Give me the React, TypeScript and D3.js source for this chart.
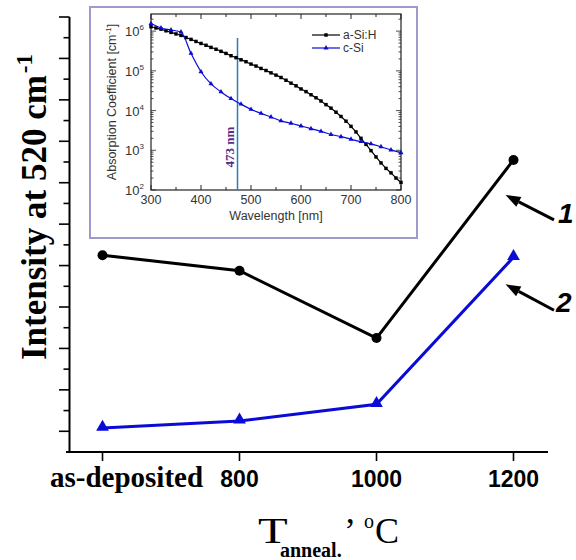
import React from "react";
import * as d3 from "d3";

// main chart: Raman intensity at 520 cm-1 vs annealing temperature
const categories = ["as-deposited", "800", "1000", "1200"];
const curve1 = [9.5, 8.75, 5.5, 14.1];
const curve2 = [1.16, 1.5, 2.3, 9.4];
const yTickValues = d3.range(1, 22);

// inset: absorption coefficient [cm-1] vs wavelength [nm]
const aSiWavelength = d3.range(300, 801, 10);
const aSiAbs = [
  1.29e6, 1.2e6, 1.12e6, 1.02e6, 9.3e5, 8.5e5, 7.8e5, 6.9e5, 6.2e5, 5.5e5,
  4.9e5, 4.4e5, 3.9e5, 3.5e5, 3.1e5, 2.75e5, 2.4e5, 2.15e5, 1.9e5, 1.7e5,
  1.48e5, 1.32e5, 1.15e5, 1.02e5, 8.9e4, 7.8e4, 6.8e4, 5.8e4, 4.9e4, 4.2e4,
  3.5e4, 3.0e4, 2.5e4, 2.1e4, 1.74e4, 1.41e4, 1.15e4, 9.1e3, 7.1e3, 5.4e3,
  4.0e3, 2.9e3, 2.0e3, 1.41e3, 9.8e2, 6.8e2, 4.8e2, 3.5e2, 2.7e2, 2.0e2,
  1.55e2,
];
const cSiWavelength = d3.range(300, 801, 20);
const cSiAbs = [
  1.55e6, 1.2e6, 1.07e6, 9.5e5, 2.75e5, 9.5e4, 4.7e4, 2.95e4, 2.0e4, 1.45e4,
  1.07e4, 8.5e3, 6.9e3, 5.5e3, 4.8e3, 4.1e3, 3.5e3, 3.0e3, 2.5e3, 2.2e3,
  1.9e3, 1.65e3, 1.45e3, 1.23e3, 1.02e3, 8.7e2,
];
const xTickLabels = [300, 400, 500, 600, 700, 800];
const decades = [2, 3, 4, 5, 6];
const laserLine = 473;

const serif = "'Liberation Serif', 'Times New Roman', serif";
const sans = "'Liberation Sans', Arial, sans-serif";
const blue = "#0b0bd6";

function Inset() {
  const ix = d3.scaleLinear().domain([300, 800]).range([151, 401]);
  const iy = d3.scaleLog().domain([100, 2.7e6]).range([190, 14]);
  const [x0, x1] = ix.range();
  const [y0, y1] = iy.range();

  const lineA = d3
    .line<number>()
    .x((d, i) => ix(aSiWavelength[i]))
    .y((d) => iy(d))
    .curve(d3.curveMonotoneX);
  const lineC = d3
    .line<number>()
    .x((d, i) => ix(cSiWavelength[i]))
    .y((d) => iy(d))
    .curve(d3.curveMonotoneX);

  const xTicks = d3.range(300, 801, 50);
  const minor: number[] = [];
  decades.forEach((e) => {
    for (let m = 1; m < 10; m++) {
      const v = m * Math.pow(10, e);
      if (v <= 2.7e6) minor.push(v);
    }
  });

  const sq = d3.symbol().type(d3.symbolSquare).size(12)();
  const tri = d3.symbol().type(d3.symbolTriangle).size(11)();

  return (
    <g>
      <rect x={90} y={7} width={327} height={231} fill="#fff" stroke="#9d9bcb" strokeWidth={2} />
      <rect x={x0} y={y1} width={x1 - x0} height={y0 - y1} fill="none" stroke="#222" strokeWidth={1.2} />
      {xTicks.map((t) => {
        const len = t % 100 === 0 ? 5 : 3;
        return (
          <g key={t}>
            <line x1={ix(t)} x2={ix(t)} y1={y0} y2={y0 - len} stroke="#222" />
            <line x1={ix(t)} x2={ix(t)} y1={y1} y2={y1 + len} stroke="#222" />
          </g>
        );
      })}
      {minor.map((v, i) => {
        const major = Math.abs(Math.log10(v) % 1) < 1e-9;
        const len = major ? 5 : 2.5;
        return (
          <g key={i}>
            <line x1={x0} x2={x0 + len} y1={iy(v)} y2={iy(v)} stroke="#222" strokeWidth={0.8} />
            <line x1={x1} x2={x1 - len} y1={iy(v)} y2={iy(v)} stroke="#222" strokeWidth={0.8} />
          </g>
        );
      })}
      {xTickLabels.map((t) => (
        <text key={t} x={ix(t)} y={204} textAnchor="middle" fontFamily={sans} fontSize={12.5} fill="#333">
          {t}
        </text>
      ))}
      {decades.map((e) => (
        <text key={e} x={144} y={iy(Math.pow(10, e)) + 5} textAnchor="end" fontFamily={sans} fontSize={13} fill="#333">
          10
          <tspan dy={-6} fontSize={8}>
            {e}
          </tspan>
        </text>
      ))}
      <text x={(x0 + x1) / 2} y={220} textAnchor="middle" fontFamily={sans} fontSize={12.5} fill="#333">
        Wavelength [nm]
      </text>
      <text
        transform={`translate(116,${(y0 + y1) / 2}) rotate(-90)`}
        textAnchor="middle"
        fontFamily={sans}
        fontSize={12.5}
        fill="#333"
      >
        Absorption Coefficient [cm
        <tspan dy={-5} fontSize={8}>
          -1
        </tspan>
        <tspan dy={5}>]</tspan>
      </text>

      <line x1={ix(laserLine)} x2={ix(laserLine)} y1={38} y2={y0} stroke="#2b7bb9" strokeWidth={1.5} />
      <text
        transform={`translate(${ix(laserLine) - 4},147) rotate(-90)`}
        textAnchor="middle"
        fontFamily={serif}
        fontWeight="bold"
        fontSize={13}
        fill="#5b2d82"
      >
        473 nm
      </text>

      <path d={lineA(aSiAbs) || ""} fill="none" stroke="#000" strokeWidth={1.2} />
      {aSiAbs.map((v, i) => (
        <path key={i} d={sq || ""} transform={`translate(${ix(aSiWavelength[i])},${iy(v)})`} fill="#000" />
      ))}
      <path d={lineC(cSiAbs) || ""} fill="none" stroke={blue} strokeWidth={1.2} />
      {cSiAbs.map((v, i) => (
        <path key={i} d={tri || ""} transform={`translate(${ix(cSiWavelength[i])},${iy(v)})`} fill={blue} />
      ))}

      <line x1={312} x2={340} y1={35} y2={35} stroke="#000" strokeWidth={1.2} />
      <path d={sq || ""} transform="translate(326,35)" fill="#000" />
      <text x={343} y={39} fontFamily={sans} fontSize={12} fill="#333">
        a-Si:H
      </text>
      <line x1={312} x2={340} y1={48} y2={48} stroke={blue} strokeWidth={1.2} />
      <path d={tri || ""} transform="translate(326,48)" fill={blue} />
      <text x={343} y={52} fontFamily={sans} fontSize={12} fill="#333">
        c-Si
      </text>
    </g>
  );
}

function Arrow({ x1, y1, x2, y2 }: { x1: number; y1: number; x2: number; y2: number }) {
  const a = Math.atan2(y2 - y1, x2 - x1);
  const L = 15;
  const W = 5.5;
  const bx = x2 - L * Math.cos(a);
  const by = y2 - L * Math.sin(a);
  const px = -Math.sin(a) * W;
  const py = Math.cos(a) * W;
  return (
    <g>
      <line x1={x1} y1={y1} x2={bx} y2={by} stroke="#000" strokeWidth={3} />
      <polygon points={`${x2},${y2} ${bx + px},${by + py} ${bx - px},${by - py}`} fill="#000" />
    </g>
  );
}

export default function App() {
  const x = d3.scalePoint<string>().domain(categories).range([102.5, 513.5]);
  const y = d3.scaleLinear().domain([0, 21]).range([452, 17]);

  const line = d3
    .line<number>()
    .x((d, i) => x(categories[i]) as number)
    .y((d) => y(d));

  const tri = d3.symbol().type(d3.symbolTriangle).size(70)();

  const last = categories[categories.length - 1];
  const lx = x(last) as number;
  const ly1 = y(curve1[curve1.length - 1]);
  const ly2 = y(curve2[curve2.length - 1]);

  return (
    <svg width={576} height={560} style={{ position: "absolute", left: 0, top: 0, background: "#fff" }}>
      {/* axes */}
      <line x1={69.5} x2={69.5} y1={y(21)} y2={y(0)} stroke="#000" strokeWidth={2} />
      <line x1={66} x2={548} y1={y(0)} y2={y(0)} stroke="#000" strokeWidth={2} />
      {yTickValues.map((t) => (
        <line key={t} x1={69.5} x2={t % 2 === 1 ? 59 : 63.5} y1={y(t)} y2={y(t)} stroke="#000" strokeWidth={1.6} />
      ))}
      {categories.map((c) => (
        <line key={c} x1={x(c)} x2={x(c)} y1={y(0)} y2={y(0) + 9} stroke="#000" strokeWidth={1.6} />
      ))}
      {categories.map((c, i) =>
        i === 0 ? (
          <text key={c} x={50} y={487} fontFamily={serif} fontWeight="bold" fontSize={29}>
            {c}
          </text>
        ) : (
          <text key={c} x={x(c)} y={487} textAnchor="middle" fontFamily={sans} fontWeight="bold" fontSize={23}>
            {c}
          </text>
        )
      )}

      {/* axis titles */}
      <text transform="translate(46,360) rotate(-90)" fontFamily={serif} fontWeight="bold" fontSize={35}>
        Intensity at 520 cm
        <tspan dx={2} dy={-14} fontSize={23}>
          -1
        </tspan>
      </text>
      <text x={258} y={543} fontFamily={serif} fontSize={36} transform="translate(258,0) scale(1.35,1) translate(-258,0)">
        T
      </text>
      <text x={280} y={557} fontFamily={serif} fontWeight="bold" fontSize={20}>
        anneal.
      </text>
      <text x={344} y={543} fontFamily={serif} fontSize={36}>
        ’
      </text>
      <text x={364} y={528} fontFamily={serif} fontSize={20}>
        o
      </text>
      <text x={375} y={543} fontFamily={serif} fontSize={36}>
        C
      </text>

      <Inset />

      {/* series */}
      <path d={line(curve1) || ""} fill="none" stroke="#000" strokeWidth={3} />
      {curve1.map((v, i) => (
        <circle key={i} cx={x(categories[i])} cy={y(v)} r={5} fill="#000" />
      ))}
      <path d={line(curve2) || ""} fill="none" stroke={blue} strokeWidth={3} />
      {curve2.map((v, i) => (
        <path key={i} d={tri || ""} transform={`translate(${x(categories[i])},${y(v) - 1})`} fill={blue} />
      ))}

      {/* annotations */}
      <Arrow x1={554} y1={ly1 + 60} x2={lx - 8} y2={ly1 + 35} />
      <text x={558} y={ly1 + 63} fontFamily={sans} fontWeight="bold" fontStyle="italic" fontSize={28}>
        1
      </text>
      <Arrow x1={554} y1={ly2 + 53} x2={lx - 8} y2={ly2 + 27} />
      <text x={556} y={ly2 + 55} fontFamily={sans} fontWeight="bold" fontStyle="italic" fontSize={28}>
        2
      </text>
    </svg>
  );
}
